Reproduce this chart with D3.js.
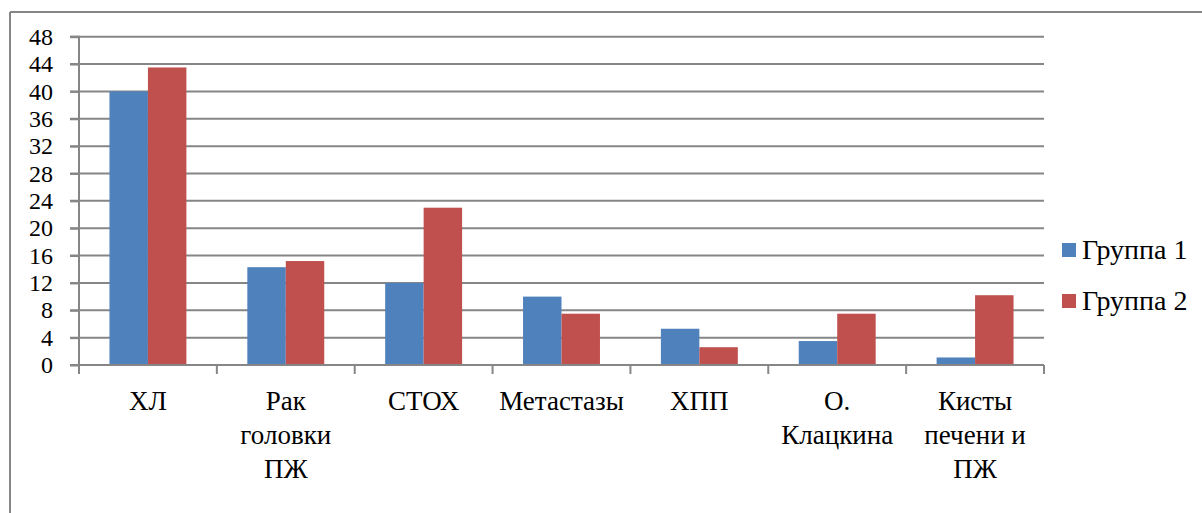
<!DOCTYPE html>
<html>
<head>
<meta charset="utf-8">
<script src="https://cdn.jsdelivr.net/npm/d3@7"></script>
<style>
  html, body { margin: 0; padding: 0; background: #fff; }
  svg { display: block; }
  #chart text, #chart tspan { font-family: 'Liberation Serif', serif !important; }
</style>
</head>
<body>
<svg id="chart" width="1202" height="513"></svg>
<script>
const categories = ["ХЛ", "Рак\nголовки\nПЖ", "СТОХ", "Метастазы", "ХПП", "О.\nКлацкина", "Кисты\nпечени и\nПЖ"];
const seriesNames = ["Группа 1", "Группа 2"];
const group1 = [40, 14.3, 12, 10, 5.3, 3.5, 1.1];
const group2 = [43.5, 15.2, 23, 7.5, 2.6, 7.5, 10.2];
const yTicks = [0, 4, 8, 12, 16, 20, 24, 28, 32, 36, 40, 44, 48];
const colors = ["#4F81BD", "#C0504D"];

const FONT = "'Liberation Serif', serif";
const svg = d3.select("#chart");
const grid = "#868686";

// outer frame (top + left visible)
svg.append("line").attr("x1", 10).attr("x2", 1202).attr("y1", 12).attr("y2", 12)
  .attr("stroke", grid).attr("stroke-width", 2);
svg.append("line").attr("x1", 10).attr("x2", 10).attr("y1", 12).attr("y2", 513)
  .attr("stroke", grid).attr("stroke-width", 2);

const pLeft = 79, pRight = 1044, pTop = 36.7, pBottom = 365;
const x = d3.scaleBand().domain(categories).range([pLeft, pRight])
  .paddingInner(0.442).paddingOuter(0.221);
const xs = d3.scaleBand().domain(seriesNames).range([0, x.bandwidth()]);
const y = d3.scaleLinear().domain([0, 48]).range([pBottom, pTop]);

// gridlines
svg.append("g").selectAll("line").data(yTicks.filter(d => d > 0)).join("line")
  .attr("x1", pLeft - 9).attr("x2", pRight)
  .attr("y1", d => y(d)).attr("y2", d => y(d))
  .attr("stroke", grid).attr("stroke-width", 2);

// y axis
const yAxis = d3.axisLeft(y).tickValues(yTicks).tickSize(9).tickPadding(17).tickFormat(d3.format("d"));
const gy = svg.append("g").attr("transform", `translate(${pLeft},0)`).call(yAxis)
  .attr("font-family", FONT).attr("font-size", 24);
gy.select(".domain").attr("stroke", grid).attr("stroke-width", 2).attr("d", `M-9,${pTop}H0V${pBottom}`);
gy.selectAll(".tick line").attr("stroke", grid).attr("stroke-width", 2);
gy.selectAll(".tick text").attr("font-family", FONT).style("font-family", FONT, "important")
  .style("font-size", "24px").attr("fill", "#000");

// bars
const data = categories.map((c, i) => ({ cat: c, vals: [group1[i], group2[i]] }));
const gBars = svg.append("g");
data.forEach(d => {
  d.vals.forEach((v, j) => {
    gBars.append("rect")
      .attr("x", x(d.cat) + xs(seriesNames[j]))
      .attr("width", xs.bandwidth())
      .attr("y", y(v))
      .attr("height", y(0) - y(v))
      .attr("fill", colors[j]);
  });
});

// x axis line and ticks at category boundaries
const boundaries = d3.range(categories.length + 1).map(i => pLeft + i * x.step());
svg.append("line").attr("x1", pLeft - 9).attr("x2", pRight).attr("y1", y(0)).attr("y2", y(0))
  .attr("stroke", grid).attr("stroke-width", 2);
svg.append("g").selectAll("line").data(boundaries).join("line")
  .attr("x1", d => d).attr("x2", d => d).attr("y1", y(0)).attr("y2", y(0) + 9)
  .attr("stroke", grid).attr("stroke-width", 2);

// x labels
const gx = svg.append("g");
categories.forEach(c => {
  const lines = c.split("\n");
  const t = gx.append("text").attr("text-anchor", "middle")
    .attr("font-family", FONT).style("font-family", FONT, "important")
    .style("font-size", "27px").attr("fill", "#000");
  lines.forEach((ln, k) => {
    t.append("tspan").attr("x", x(c) + x.bandwidth() / 2).attr("y", 410 + k * 34).text(ln);
  });
});

// legend
const lg = svg.append("g");
seriesNames.forEach((s, j) => {
  lg.append("rect").attr("x", 1062).attr("y", 243 + j * 51).attr("width", 14).attr("height", 14).attr("fill", colors[j]);
  lg.append("text").attr("x", 1082).attr("y", 259 + j * 51)
    .attr("font-family", FONT).style("font-family", FONT, "important")
    .style("font-size", "28px").attr("fill", "#000").text(s);
});
</script>
</body>
</html>
